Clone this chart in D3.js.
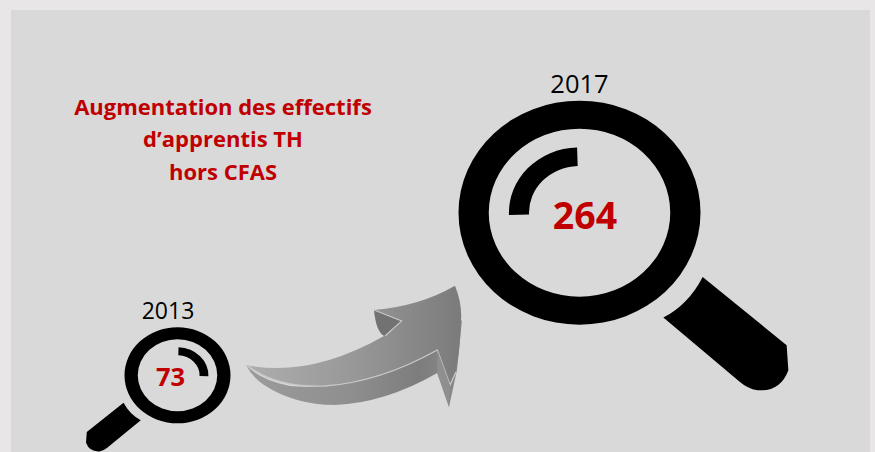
<!DOCTYPE html>
<html><head><meta charset="utf-8">
<script src="https://cdn.jsdelivr.net/npm/d3@7"></script>
<style>html,body{margin:0;padding:0;background:#e8e6e6;overflow:hidden}svg{display:block}text{font-variant-ligatures:none}</style>
</head><body><div id="c"></div>
<script>
const years = [2013, 2017];
const values = [73, 264];
const titleLines = ["Augmentation des effectifs", "d’apprentis TH", "hors CFAS"];

const W = 875, H = 452, RED = "#c00000";
const svg = d3.select("#c").append("svg").attr("width", W).attr("height", H);
const font = "'Open Sans', sans-serif";

svg.append("rect").attr("x", 11).attr("y", 10).attr("width", 859).attr("height", H - 10).attr("fill", "#d9d9d9");

// Scales: year → centre x, value → centre y and glyph size
const cx = d3.scaleLinear().domain(d3.extent(years)).range([177.5, 579.5]);
const cy = d3.scaleLinear().domain(d3.extent(values)).range([375.3, 212.7]);
const rx = d3.scaleLinear().domain(d3.extent(values)).range([53, 121]);
const ry = d3.scaleLinear().domain(d3.extent(values)).range([48, 112]);
const mirror = [-1, 1];           // handle direction for each glyph
const yearDx = [-9.5, 0];
const valueDx = [-7, 5.5];
const yearSize = d3.scaleLinear().domain(d3.extent(values)).range([23, 25.5]);
const valueSize = d3.scaleLinear().domain(d3.extent(values)).range([25.5, 37.5]);

const rows = years.map((y, i) => ({year: y, value: values[i], i}));

// Magnifier glyph in unit coordinates
const ring = d3.path();
ring.arc(0, 0, 1, 0, 2 * Math.PI); ring.closePath();
ring.moveTo(0.75, 0); ring.arc(0, 0, 0.75, 0, 2 * Math.PI); ring.closePath();

const handle = d3.path();
handle.moveTo(1.018, .573);
handle.lineTo(1.712, 1.183);
handle.lineTo(1.726, 1.406);
handle.quadraticCurveTo(1.66, 1.60, 1.47, 1.585);
handle.quadraticCurveTo(1.39, 1.57, 1.326, 1.511);
handle.lineTo(.693, .936);
handle.quadraticCurveTo(.90, .82, 1.018, .573);
handle.closePath();

const tick = d3.arc().innerRadius(.417).outerRadius(.583)
  .startAngle(-92 * Math.PI / 180).endAngle(-2 * Math.PI / 180);

const g = svg.selectAll("g.mag").data(rows).join("g").attr("class", "mag")
  .attr("transform", d => `translate(${cx(d.year)},${cy(d.value)}) scale(${mirror[d.i] * rx(d.value)},${ry(d.value)})`);
g.append("path").attr("d", ring.toString()).attr("fill-rule", "evenodd").attr("fill", "#000");
g.append("path").attr("d", handle.toString()).attr("fill", "#000");
g.append("path").attr("d", tick()).attr("fill", "#000");

svg.selectAll("text.year").data(rows).join("text").attr("class", "year")
  .attr("x", d => cx(d.year) + yearDx[d.i])
  .attr("y", d => cy(d.value) - ry(d.value) - 8)
  .attr("text-anchor", "middle").attr("font-family", font)
  .attr("font-size", d => yearSize(d.value)).attr("fill", "#000").text(d => d.year);

svg.selectAll("text.val").data(rows).join("text").attr("class", "val")
  .attr("x", d => cx(d.year) + valueDx[d.i])
  .attr("y", d => cy(d.value) + valueSize(d.value) * .43)
  .attr("text-anchor", "middle").attr("font-family", font).attr("font-weight", 700)
  .attr("font-size", d => valueSize(d.value)).attr("fill", RED).text(d => d.value);

svg.selectAll("text.title").data(titleLines).join("text").attr("class", "title")
  .attr("x", 223).attr("y", (d, i) => 114.5 + i * 32.5)
  .attr("text-anchor", "middle").attr("font-family", font).attr("font-weight", 700)
  .attr("font-size", 22).attr("fill", RED).text(d => d);

// Decorative arrow
const defs = svg.append("defs");
const grad = (id, stops) => {
  const lg = defs.append("linearGradient").attr("id", id).attr("gradientUnits", "userSpaceOnUse")
    .attr("x1", 246).attr("x2", 461).attr("y1", 0).attr("y2", 0);
  stops.forEach(([o, c]) => lg.append("stop").attr("offset", o).attr("stop-color", c));
};
grad("top", [[0, "#aeaeae"], [.5, "#989898"], [1, "#7b7b7b"]]);
grad("low", [[0, "#9c9c9c"], [.5, "#8e8e8e"], [.8, "#7d7d7d"], [1, "#8a8a8a"]]);

const a = svg.append("g");
a.append("path").attr("fill", "url(#low)").attr("d",
  "M246,365 Q252,377 264,385 Q295,405 335,405 Q385,403 437.3,373 L449,407 L457,370 L462,320 L437,350 Q350,392 290,386 Q260,380 246,365Z");
a.append("path").attr("fill", "url(#top)").attr("d",
  "M246,365 Q310,378 384,336 L374,310 Q420,306 455,285.7 Q463,305 460.7,325 Q460,350 456,370 L451,385 L437.3,350 Q380,382 325,386 Q275,388 246,365Z");
a.append("path").attr("fill", "#727272").attr("d", "M374,310 L401.7,321 L384.3,336 Q376,332 374,310Z");
a.append("path").attr("fill", "none").attr("stroke", "#c8c8c8").attr("stroke-width", 1.3).attr("d",
  "M247,365 Q275,388 325,386 Q380,382 437.3,350 L450,385 L456,372");
a.append("path").attr("fill", "none").attr("stroke", "#c8c8c8").attr("stroke-width", 1.1).attr("d",
  "M374,310 L401.7,321 L385,336");
a.append("path").attr("fill", "#8f8f8f").attr("d", "M437.3,350 L450,385 L449,407 L437.3,373Z");
</script></body></html>
